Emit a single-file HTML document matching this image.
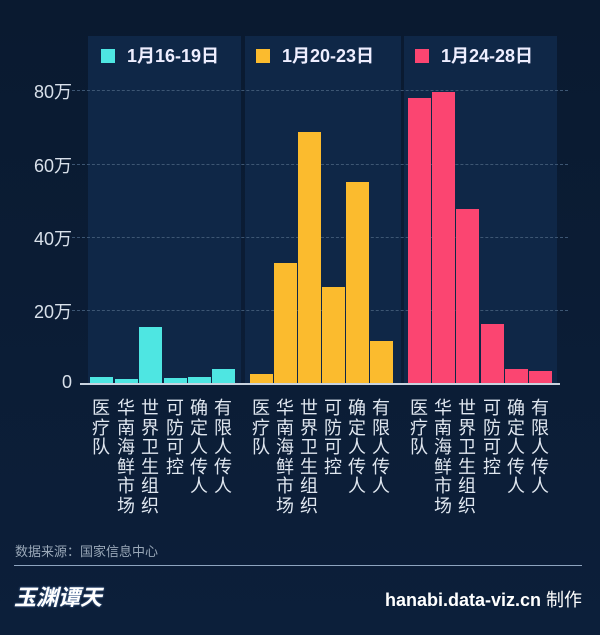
<!DOCTYPE html><html><head><meta charset="utf-8"><style>
body{margin:0;width:600px;height:635px;background:linear-gradient(#0a1a30,#0c1f3a);overflow:hidden;font-family:"Liberation Sans","Noto Sans CJK SC",sans-serif;position:relative}
.a{position:absolute}
.p{position:absolute;top:36px;height:348px;background:#0f2747}
.b{position:absolute;width:23px}
.l{position:absolute;top:398px;width:20px;font-size:18px;line-height:19.5px;color:#dfe6ef;text-align:center;font-family:"Noto Sans CJK SC",sans-serif}
.g{position:absolute;left:72px;width:496px;border-top:1px dashed #3d5673}
.y{position:absolute;left:20px;width:52px;text-align:right;font-size:18px;color:#d8e0ea}
.lg{position:absolute;top:42px;font-size:18px;color:#eef;font-weight:bold}
.lg i{display:inline-block;width:14px;height:14px;margin-right:12px;vertical-align:-1px}
</style></head><body>
<div class="p" style="left:88px;width:153px"></div>
<div class="p" style="left:245px;width:156px"></div>
<div class="p" style="left:404px;width:153px"></div>
<div class="lg" style="left:101px"><i style="background:#4ee6e2"></i>1月16-19日</div>
<div class="lg" style="left:256px"><i style="background:#fbbb2e"></i>1月20-23日</div>
<div class="lg" style="left:415px"><i style="background:#fb4571"></i>1月24-28日</div>
<div class="g" style="top:90px"></div><div class="g" style="top:164px"></div><div class="g" style="top:237px"></div><div class="g" style="top:310px"></div>
<div class="y" style="top:78px">80万</div><div class="y" style="top:152px">60万</div><div class="y" style="top:225px">40万</div><div class="y" style="top:298px">20万</div><div class="y" style="top:372px">0</div>
<div class="b" style="left:90px;top:377px;height:7px;background:#4ee6e2"></div>
<div class="b" style="left:115px;top:379px;height:5px;background:#4ee6e2"></div>
<div class="b" style="left:139px;top:327px;height:57px;background:#4ee6e2"></div>
<div class="b" style="left:164px;top:378px;height:6px;background:#4ee6e2"></div>
<div class="b" style="left:188px;top:377px;height:7px;background:#4ee6e2"></div>
<div class="b" style="left:212px;top:369px;height:15px;background:#4ee6e2"></div>
<div class="b" style="left:250px;top:374px;height:10px;background:#fbbb2e"></div>
<div class="b" style="left:274px;top:263px;height:121px;background:#fbbb2e"></div>
<div class="b" style="left:298px;top:132px;height:252px;background:#fbbb2e"></div>
<div class="b" style="left:322px;top:287px;height:97px;background:#fbbb2e"></div>
<div class="b" style="left:346px;top:182px;height:202px;background:#fbbb2e"></div>
<div class="b" style="left:370px;top:341px;height:43px;background:#fbbb2e"></div>
<div class="b" style="left:408px;top:98px;height:286px;background:#fb4571"></div>
<div class="b" style="left:432px;top:92px;height:292px;background:#fb4571"></div>
<div class="b" style="left:456px;top:209px;height:175px;background:#fb4571"></div>
<div class="b" style="left:481px;top:324px;height:60px;background:#fb4571"></div>
<div class="b" style="left:505px;top:369px;height:15px;background:#fb4571"></div>
<div class="b" style="left:529px;top:371px;height:13px;background:#fb4571"></div>
<div class="a" style="left:80px;top:383px;width:480px;height:2px;background:#c9d3df"></div>
<div class="l" style="left:91px">医疗队</div><div class="l" style="left:116px">华南海鲜市场</div><div class="l" style="left:140px">世界卫生组织</div><div class="l" style="left:165px">可防可控</div><div class="l" style="left:189px">确定人传人</div><div class="l" style="left:213px">有限人传人</div>
<div class="l" style="left:251px">医疗队</div><div class="l" style="left:275px">华南海鲜市场</div><div class="l" style="left:299px">世界卫生组织</div><div class="l" style="left:323px">可防可控</div><div class="l" style="left:347px">确定人传人</div><div class="l" style="left:371px">有限人传人</div>
<div class="l" style="left:409px">医疗队</div><div class="l" style="left:433px">华南海鲜市场</div><div class="l" style="left:457px">世界卫生组织</div><div class="l" style="left:482px">可防可控</div><div class="l" style="left:506px">确定人传人</div><div class="l" style="left:530px">有限人传人</div>
<div class="a" style="left:15px;top:541px;font-size:13px;color:#9aa8b8">数据来源：国家信息中心</div>
<div class="a" style="left:14px;top:565px;width:568px;height:1px;background:#8ea4bf"></div>
<div class="a" style="left:14px;top:580px;font-size:22px;color:#fff;font-weight:bold;font-style:italic;text-shadow:0 0 2px #5a7db0">玉渊谭天</div>
<div class="a" style="right:18px;top:586px;font-size:18px;color:#fff;font-weight:bold">hanabi.data-viz.cn <span style="font-weight:normal">制作</span></div>
</body></html>
